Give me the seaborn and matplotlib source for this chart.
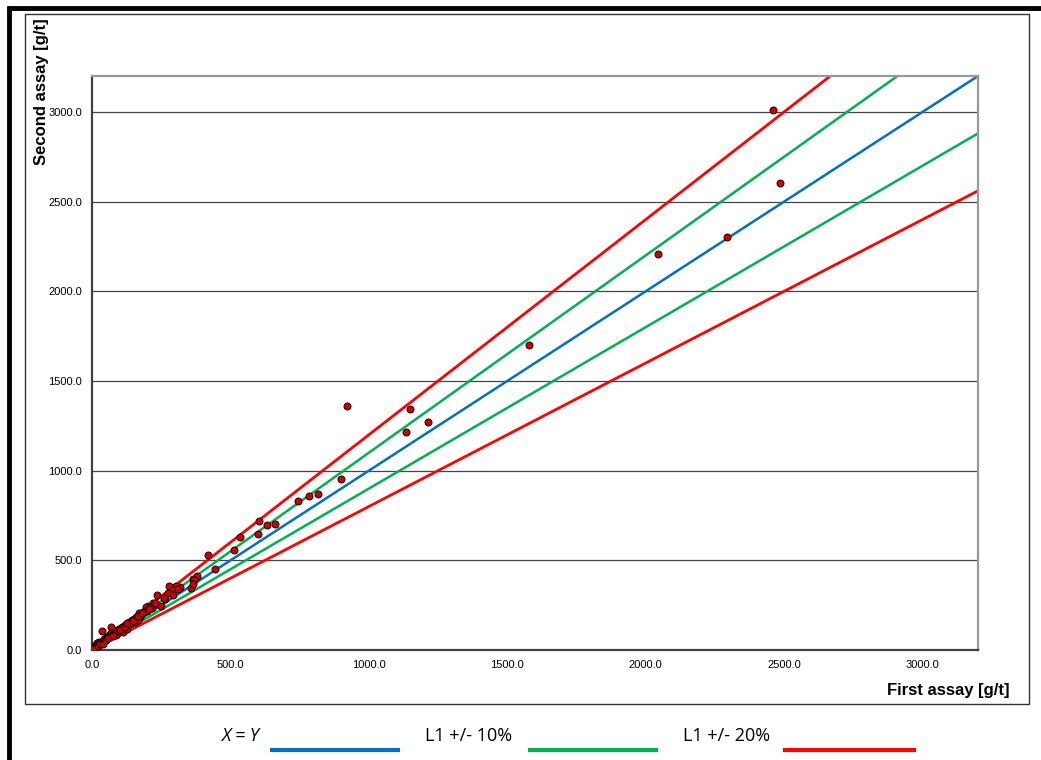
import matplotlib
matplotlib.use('Agg')
import matplotlib.pyplot as plt
import seaborn as sns
import pandas as pd
import numpy as np

# first / second assay pairs [g/t]
first_assay = [
    2460, 2485, 2295, 2045, 1580, 920, 1150, 1135, 1215, 900, 815, 785, 745,
    660, 632, 603, 600, 535, 513, 420, 443, 378, 365, 368, 356, 366, 318, 303,
    279, 291, 275, 293, 234, 264, 221, 203, 195, 185, 170, 173, 159, 135, 122,
    101, 69, 35, 53, 17, 0,
    5, 8, 12, 15, 18, 22, 25, 30, 32, 40, 45, 47, 52, 55, 59, 62, 66, 69, 72,
    78, 82, 86, 89, 92, 96, 105, 110, 113, 118, 125, 131, 140, 145, 150, 155,
    162, 167, 173, 178, 185, 190, 197, 210, 216, 249, 11, 3,
    20, 28, 38, 50, 58, 75, 100, 120, 128, 148, 165, 182, 205, 228, 260, 310,
]
second_assay = [
    3010, 2605, 2305, 2210, 1700, 1360, 1345, 1215, 1270, 955, 870, 860, 830,
    705, 695, 720, 645, 630, 560, 530, 449, 413, 397, 391, 348, 369, 350, 358,
    358, 335, 317, 307, 306, 287, 264, 246, 242, 214, 205, 183, 183, 158, 136,
    117, 130, 106, 74, 37, 18,
    10, 20, 15, 28, 37, 30, 45, 40, 46, 52, 60, 56, 62, 74, 74, 80, 90, 97, 85,
    95, 100, 84, 108, 112, 118, 122, 128, 102, 138, 116, 140, 150, 165, 172, 158,
    186, 168, 190, 200, 205, 215, 220, 240, 233, 246, 9, 5,
    24, 33, 35, 58, 66, 78, 112, 126, 148, 160, 190, 205, 230, 262, 290, 340,
]

# reference lines: slope relative to the first assay
line_names = ['X = Y', 'L1 +/- 10%', 'L1 +/- 20%']
line_colors = ['#0070C0', '#00B050', '#FF0000']
line_x = [0, 3200]
slopes = {'X = Y': [1.0], 'L1 +/- 10%': [1.1, 0.9], 'L1 +/- 20%': [1.2, 0.8]}

x_ticks = [0, 500, 1000, 1500, 2000, 2500, 3000]
y_ticks = [0, 500, 1000, 1500, 2000, 2500, 3000]

sns.set_style('white')
plt.rcParams['font.family'] = ['Liberation Sans', 'DejaVu Sans']

fig = plt.figure(figsize=(10.41, 7.60), dpi=100)
ax = fig.add_axes([0.0884, 0.1447, 0.8511, 0.7553])

for name, color in zip(line_names, line_colors):
    for s in slopes[name]:
        df_line = pd.DataFrame({'x': line_x, 'y': [s * v for v in line_x]})
        sns.lineplot(data=df_line, x='x', y='y', color=color,
                     lw=2.0 if color == '#FF0000' else 1.8, ax=ax, zorder=2)

pts = pd.DataFrame({'first': first_assay, 'second': second_assay})
sns.scatterplot(data=pts, x='first', y='second', s=26, color='#CC0000',
                edgecolor='black', linewidth=0.6, ax=ax, zorder=3)

ax.set_xlim(0, 3200)
ax.set_ylim(0, 3200)
ax.set_xticks(x_ticks)
ax.set_yticks(y_ticks)
ax.set_xticklabels([f'{v:.1f}' for v in x_ticks], fontsize=8, color='black')
ax.set_yticklabels([f'{v:.1f}' for v in y_ticks], fontsize=8, color='black')
ax.tick_params(axis='both', direction='out', length=4, width=1, color='#404040', pad=3)
ax.yaxis.grid(True, color='#444444', lw=0.9)
ax.set_axisbelow(True)
ax.set_xlabel('')
ax.set_ylabel('')

for side in ['left', 'bottom']:
    ax.spines[side].set_color('#404040')
    ax.spines[side].set_linewidth(1.6)
for side in ['top', 'right']:
    ax.spines[side].set_color('#999999')
    ax.spines[side].set_linewidth(1.6)

fig.text(0.040, 0.976, 'Second assay [g/t]', rotation=90, ha='center', va='top',
         fontsize=12, fontweight='bold', color='black')
fig.text(0.970, 0.0908, 'First assay [g/t]', ha='right', va='center',
         fontsize=12, fontweight='bold', color='black')

# chart frame
frame = plt.Rectangle((0.024, 0.0737), 0.9645, 0.9079, transform=fig.transFigure,
                      fill=False, edgecolor='#333333', lw=1)
fig.add_artist(frame)
fig.add_artist(plt.Line2D([0.007, 1.0], [0.9895, 0.9895], transform=fig.transFigure,
                          color='black', lw=3.5, solid_capstyle='butt'))
fig.add_artist(plt.Line2D([0.0085, 0.0085], [0.0, 0.992], transform=fig.transFigure,
                          color='black', lw=3.5, solid_capstyle='butt'))

# legend below the frame
leg_text_x = [0.2133, 0.408, 0.656]
leg_line_x = [(0.259, 0.384), (0.507, 0.632), (0.752, 0.880)]
for name, color, tx, (x0, x1) in zip(line_names, line_colors, leg_text_x, leg_line_x):
    fig.text(tx, 0.031, name, ha='left', va='center', fontsize=13, color='black',
             family=['Open Sans', 'DejaVu Sans'],
             style='italic' if name == 'X = Y' else 'normal')
    fig.add_artist(plt.Line2D([x0, x1], [0.0132, 0.0132], transform=fig.transFigure,
                              color=color, lw=3, solid_capstyle='butt'))

plt.savefig('out.png', dpi=100)
